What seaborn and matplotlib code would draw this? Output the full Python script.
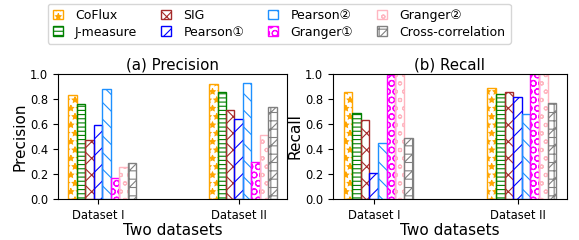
import matplotlib
matplotlib.use('Agg')
import matplotlib.pyplot as plt
from matplotlib.patches import Patch
import seaborn as sns
import pandas as pd

methods = ['CoFlux', 'J-measure', 'SIG', 'Pearson①', 'Pearson②', 'Granger①', 'Granger②', 'Cross-correlation']
datasets = ['Dataset I', 'Dataset II']
precision_d1 = [0.83, 0.76, 0.47, 0.59, 0.88, 0.17, 0.26, 0.29]
precision_d2 = [0.92, 0.86, 0.71, 0.64, 0.93, 0.30, 0.51, 0.74]
recall_d1 = [0.86, 0.69, 0.63, 0.21, 0.45, 0.99, 1.00, 0.49]
recall_d2 = [0.89, 0.84, 0.86, 0.82, 0.68, 1.00, 1.00, 0.77]

colors = ['#FFA500', '#008000', '#A52A2A', '#0000FF', '#1E90FF', '#FF00FF', '#FFB6C1', '#808080']
hatches = ['**', '----', 'xx', '//', '\\\\', 'OO', 'oo', '++//']

plt.rcParams['font.family'] = ['DejaVu Sans', 'Noto Sans CJK SC']
plt.rcParams['hatch.linewidth'] = 0.8


def make_df(v1, v2):
    rows = []
    for m, a, b in zip(methods, v1, v2):
        rows.append({'dataset': datasets[0], 'method': m, 'value': a})
        rows.append({'dataset': datasets[1], 'method': m, 'value': b})
    return pd.DataFrame(rows)


def draw(ax, df, title, ylabel):
    sns.barplot(data=df, x='dataset', y='value', hue='method', hue_order=methods,
                order=datasets, palette=colors, width=0.48, fill=False,
                linewidth=1.0, ax=ax, legend=False, errorbar=None)
    for cont, c, h in zip(ax.containers, colors, hatches):
        for bar in cont:
            bar.set_facecolor('none')
            bar.set_edgecolor(c)
            bar.set_hatch(h)
    w = 0.48 / 8
    ax.set_xlim(-0.314, 1.314)
    ax.set_xticks([-w / 2, 1 - w / 2])
    ax.set_xticklabels(datasets, fontsize=8.3)
    ax.set_ylim(0, 1.0)
    ax.set_yticks([0, 0.2, 0.4, 0.6, 0.8, 1.0])
    ax.set_yticklabels(['0.0', '0.2', '0.4', '0.6', '0.8', '1.0'], fontsize=8.3)
    ax.set_title(title, fontsize=10.8, pad=3)
    ax.set_xlabel('Two datasets', fontsize=11, labelpad=1)
    ax.set_ylabel(ylabel, fontsize=11, labelpad=2)


fig = plt.figure(figsize=(5.79, 2.4), dpi=100)
ax1 = fig.add_axes([0.1002, 0.1708, 0.3955, 0.5208])
ax2 = fig.add_axes([0.5751, 0.1708, 0.4041, 0.5208])

draw(ax1, make_df(precision_d1, precision_d2), '(a) Precision', 'Precision')
draw(ax2, make_df(recall_d1, recall_d2), '(b) Recall', 'Recall')

handles = [Patch(facecolor='none', edgecolor=c, hatch=h, label=m)
           for m, c, h in zip(methods, colors, hatches)]
fig.legend(handles=handles, loc='upper center', bbox_to_anchor=(0.482, 1.01), ncol=4,
           fontsize=9, handlelength=0.8, handleheight=0.8, handletextpad=1.0,
           columnspacing=1.9, labelspacing=0.3, borderpad=0.4)

fig.savefig('out.png', dpi=100)
